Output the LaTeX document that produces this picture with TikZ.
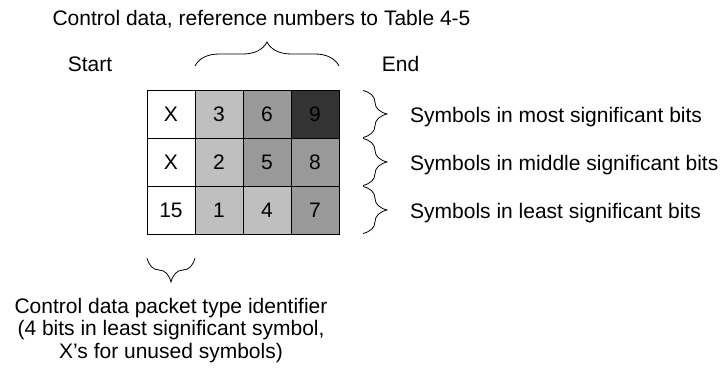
\documentclass[tikz,border=0pt]{standalone}
\usepackage{fontspec}
\setmainfont{Liberation Sans}
\usepackage{tikz}
\usetikzlibrary{positioning, decorations.pathreplacing}
\definecolor{litegray}{gray}{0.75}
\definecolor{midgray}{gray}{0.6}
\definecolor{darkgray}{gray}{0.2}
\tikzset{
    cell/.style={rectangle, draw, line width=0.9pt, minimum size=48pt, inner sep=0pt, outer sep=0pt, fill=white, font=\fontsize{21}{23}\selectfont},
    lite/.style={fill=litegray},
    mid/.style={fill=midgray},
    dark/.style={fill=darkgray},
    txt/.style={font=\fontsize{21}{22.6}\selectfont, inner sep=0pt},
    curly/.style={decorate, decoration={brace, amplitude=24pt}, line width=0.8pt},
}

\begin{document}
\begin{tikzpicture}[node distance=0pt]
    \useasboundingbox (0,0) rectangle (726pt,-371pt);

    % Top row: most significant bits
    \node[cell] (x3) at (171pt,-114pt) {X};
    \node[cell, lite, right=of x3] (n3) {3};
    \node[cell, mid, right=of n3] (n6) {6};
    \node[cell, dark, right=of n6] (n9) {9};

    % Middle row
    \node[cell, below=of x3] (x2) {X};
    \node[cell, lite, right=of x2] (n2) {2};
    \node[cell, mid, right=of n2] (n5) {5};
    \node[cell, mid, right=of n5] (n8) {8};

    % Bottom row: least significant bits
    \node[cell, below=of x2] (p15) {15};
    \node[cell, lite, right=of p15] (n1) {1};
    \node[cell, lite, right=of n1] (n4) {4};
    \node[cell, mid, right=of n4] (n7) {7};

    % Caption, start and end
    \node[txt, anchor=base] (caption) at (261.5pt,-26pt) {Control data, reference numbers to Table 4-5};
    \node[txt, anchor=base] (start) at (90pt,-72pt) {Start};
    \node[txt, anchor=base] (end) at (400.5pt,-72pt) {End};

    % Braces
    \coordinate (tl) at ([yshift=24pt]n3.north west);
    \coordinate (tr) at ([yshift=24pt]n9.north east);
    \draw[curly] (tl) -- (tr);
    \draw[curly] ([xshift=24pt,yshift=-0.5pt]n9.north east) -- ([xshift=24pt,yshift=0.5pt]n9.south east);
    \draw[curly] ([xshift=24pt,yshift=-0.5pt]n8.north east) -- ([xshift=24pt,yshift=0.5pt]n8.south east);
    \draw[curly] ([xshift=24pt,yshift=-0.5pt]n7.north east) -- ([xshift=24pt,yshift=0.5pt]n7.south east);
    \coordinate (bl) at ([yshift=-24pt]p15.south west);
    \coordinate (br) at ([yshift=-24pt]p15.south east);
    \draw[curly] (br) -- (bl);

    % Row labels
    \node[txt, anchor=base west] (msb) at ([xshift=71pt,yshift=-9pt]n9.east) {Symbols in most significant bits};
    \node[txt, anchor=base west] (midsb) at ([xshift=71pt,yshift=-9pt]n8.east) {Symbols in middle significant bits};
    \node[txt, anchor=base west] (lsb) at ([xshift=71pt,yshift=-9pt]n7.east) {Symbols in least significant bits};

    % Identifier note
    \node[txt, align=center, anchor=base] (ident) at ([yshift=-124.5pt]p15.south) {Control data packet type identifier\\(4 bits in least significant symbol,\\X's for unused symbols)};
\end{tikzpicture}
\end{document}
